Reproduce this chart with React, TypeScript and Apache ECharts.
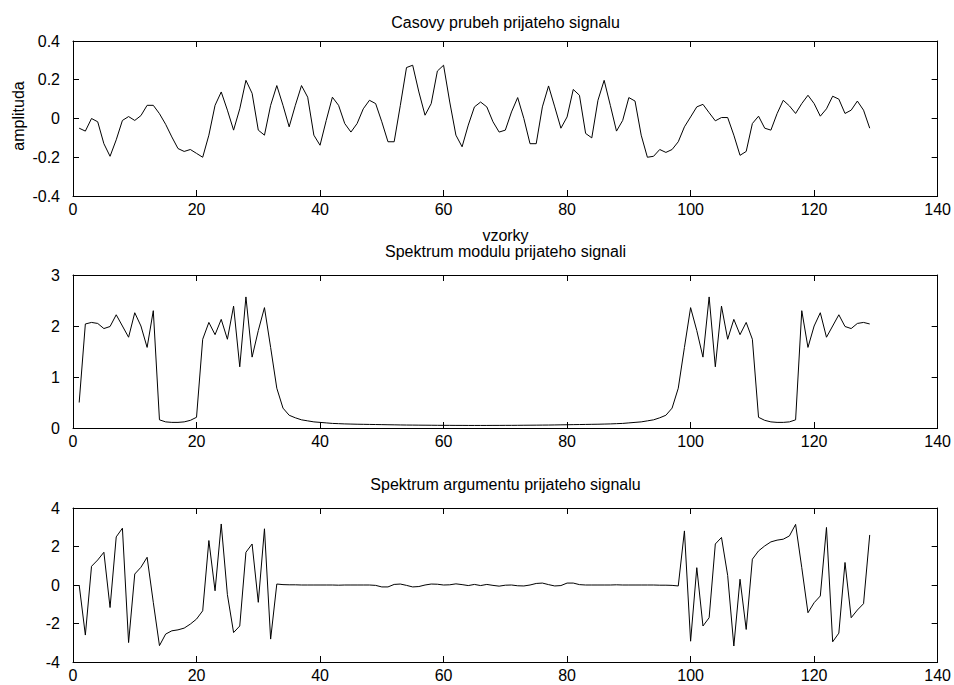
import React, { useEffect, useRef } from "react";
import * as echarts from "echarts";

// Received signal samples (index 1..129)
const signal: number[] = [
  -0.05, -0.065, 0.0, -0.017, -0.13, -0.195, -0.11, -0.01, 0.01, -0.01,
  0.015, 0.068, 0.068, 0.025, -0.03, -0.095, -0.155, -0.17, -0.16, -0.18,
  -0.2, -0.086, 0.068, 0.137, 0.043, -0.06, 0.05, 0.197, 0.13, -0.06,
  -0.086, 0.068, 0.17, 0.068, -0.043, 0.068, 0.17, 0.11, -0.086, -0.138,
  -0.01, 0.11, 0.068, -0.026, -0.07, -0.026, 0.05, 0.094, 0.077, -0.017,
  -0.12, -0.12, 0.068, 0.263, 0.275, 0.137, 0.017, 0.077, 0.245, 0.275,
  0.085, -0.086, -0.146, -0.034, 0.06, 0.085, 0.06, -0.017, -0.07, -0.06,
  0.034, 0.108, 0.0, -0.13, -0.13, 0.06, 0.168, 0.06, -0.05, 0.008,
  0.15, 0.12, -0.077, -0.1, 0.094, 0.197, 0.068, -0.065, -0.01, 0.108,
  0.09, -0.086, -0.2, -0.195, -0.16, -0.175, -0.16, -0.12, -0.043, 0.008,
  0.06, 0.073, 0.03, -0.012, 0.005, 0.005, -0.086, -0.19, -0.17, -0.026,
  0.012, -0.05, -0.06, 0.025, 0.094, 0.065, 0.026, 0.077, 0.12, 0.077,
  0.012, 0.05, 0.115, 0.1, 0.026, 0.043, 0.09, 0.043, -0.05,
];

// Magnitude spectrum
const magnitude: number[] = [
  0.5, 2.04, 2.07, 2.05, 1.95, 1.99, 2.22, 2.0, 1.78, 2.26,
  2.0, 1.58, 2.3, 0.16, 0.12, 0.11, 0.11, 0.12, 0.15, 0.21,
  1.74, 2.07, 1.83, 2.13, 1.74, 2.39, 1.2, 2.57, 1.39, 1.91,
  2.36, 1.58, 0.78, 0.39, 0.25, 0.2, 0.16, 0.14, 0.12, 0.11,
  0.1, 0.09, 0.085, 0.08, 0.077, 0.074, 0.072, 0.07, 0.068, 0.066,
  0.064, 0.062, 0.06, 0.058, 0.057, 0.056, 0.055, 0.054, 0.053, 0.052,
  0.052, 0.051, 0.051, 0.05, 0.05, 0.05, 0.05, 0.051, 0.051, 0.052,
  0.052, 0.053, 0.054, 0.055, 0.056, 0.057, 0.058, 0.06, 0.062, 0.064,
  0.066, 0.068, 0.07, 0.072, 0.074, 0.077, 0.08, 0.085, 0.09, 0.1,
  0.11, 0.12, 0.14, 0.16, 0.2, 0.25, 0.39, 0.78, 1.58, 2.36,
  1.91, 1.39, 2.57, 1.2, 2.39, 1.74, 2.13, 1.83, 2.07, 1.74,
  0.21, 0.15, 0.12, 0.11, 0.11, 0.12, 0.16, 2.3, 1.58, 2.0,
  2.26, 1.78, 2.0, 2.22, 1.99, 1.95, 2.05, 2.07, 2.04,
];

// Phase spectrum
const phase: number[] = [
  0.0, -2.6, 0.97, 1.3, 1.7, -1.17, 2.5, 2.95, -2.99, 0.57,
  0.92, 1.44, -0.9, -3.15, -2.55, -2.38, -2.33, -2.24, -2.03, -1.77,
  -1.34, 2.31, -0.3, 3.17, -0.5, -2.47, -2.13, 1.7, 2.13, -0.9,
  2.92, -2.81, 0.05, 0.02, 0.01, 0.01, 0.0, 0.0, 0.0, 0.0,
  0.0, 0.0, -0.01, 0.0, 0.0, 0.0, 0.0, 0.0, -0.02, -0.1,
  -0.1, 0.03, 0.05, -0.02, -0.1, -0.08, 0.0, 0.05, 0.04, 0.0,
  0.01, 0.06, 0.02, -0.03, 0.03, -0.03, 0.03, -0.02, -0.06, -0.01,
  0.0, -0.04, -0.05, 0.0, 0.08, 0.1, 0.02, -0.05, -0.03, 0.1,
  0.1, 0.02, 0.0, 0.0, 0.0, 0.0, 0.0, 0.01, 0.0, 0.0,
  0.0, 0.0, 0.0, 0.0, -0.01, -0.01, -0.02, -0.05, 2.81, -2.92,
  0.9, -2.13, -1.7, 2.13, 2.47, 0.5, -3.17, 0.3, -2.31, 1.34,
  1.77, 2.03, 2.24, 2.33, 2.38, 2.55, 3.15, 0.9, -1.44, -0.92,
  -0.57, 2.99, -2.95, -2.5, 1.17, -1.7, -1.3, -0.97, 2.6,
];

const titles: string[] = [
  "Casovy prubeh prijateho signalu",
  "Spektrum modulu prijateho signali",
  "Spektrum argumentu prijateho signalu",
];
const xLabel = "vzorky";
const yLabel = "amplituda";

const xRange = { min: 0, max: 140, interval: 20 };
const yRanges = [
  { min: -0.4, max: 0.4, interval: 0.2 },
  { min: 0, max: 3, interval: 1 },
  { min: -4, max: 4, interval: 2 },
];

const FONT = "'Liberation Sans', Arial, Helvetica, sans-serif";
const FS = 16;

export default function App() {
  const ref = useRef<HTMLDivElement>(null);
  useEffect(() => {
    document.body.style.margin = "0";
    if (!ref.current) return;
    const chart = echarts.init(ref.current, null, { renderer: "svg" });

    const grids = [
      { left: 73, top: 41, width: 865, height: 155 },
      { left: 73, top: 275, width: 865, height: 153 },
      { left: 73, top: 508, width: 865, height: 154 },
    ];
    const axisLine = { show: true, onZero: false, lineStyle: { color: "#000", width: 1 } };
    const tick = { show: true, inside: true, length: 6, lineStyle: { color: "#000", width: 1 } };
    const label = { color: "#000", fontFamily: FONT, fontSize: FS };

    const xAxes: any[] = [];
    const yAxes: any[] = [];
    grids.forEach((_, i) => {
      xAxes.push({
        gridIndex: i, type: "value", position: "bottom", ...xRange,
        axisLine, axisTick: tick, splitLine: { show: false },
        axisLabel: { ...label, margin: 5 },
      });
      xAxes.push({
        gridIndex: i, type: "value", position: "top", ...xRange,
        axisLine, axisTick: tick, splitLine: { show: false },
        axisLabel: { show: false },
      });
      yAxes.push({
        gridIndex: i, type: "value", position: "left", ...yRanges[i],
        axisLine, axisTick: tick, splitLine: { show: false },
        axisLabel: { ...label, margin: 13 },
      });
      yAxes.push({
        gridIndex: i, type: "value", position: "right", ...yRanges[i],
        axisLine, axisTick: tick, splitLine: { show: false },
        axisLabel: { show: false },
      });
    });

    const mk = (arr: number[]) => arr.map((v, k) => [k + 1, v]);
    const datasets = [signal, magnitude, phase];
    const series = datasets.map((d, i) => ({
      type: "line",
      xAxisIndex: 2 * i,
      yAxisIndex: 2 * i,
      data: mk(d),
      showSymbol: false,
      symbol: "none",
      lineStyle: { color: "#000", width: 1 },
    }));

    const cx = 73 + 865 / 2;
    const textStyle = (t: string) => ({
      text: t, fill: "#000", font: `${FS}px ${FONT}`, textAlign: "center", textVerticalAlign: "middle",
    });

    chart.setOption({
      animation: false,
      backgroundColor: "#fff",
      grid: grids,
      xAxis: xAxes,
      yAxis: yAxes,
      series,
      graphic: [
        { type: "text", x: cx, y: 22, style: textStyle(titles[0]) },
        { type: "text", x: cx, y: 235, style: textStyle(xLabel) },
        { type: "text", x: cx, y: 251, style: textStyle(titles[1]) },
        { type: "text", x: cx, y: 484, style: textStyle(titles[2]) },
        { type: "text", x: 18, y: 116, rotation: Math.PI / 2, style: textStyle(yLabel) },
      ],
    });
    return () => chart.dispose();
  }, []);
  return (
    <div
      ref={ref}
      style={{ position: "absolute", left: 0, top: 0, width: 954, height: 685 }}
    />
  );
}
